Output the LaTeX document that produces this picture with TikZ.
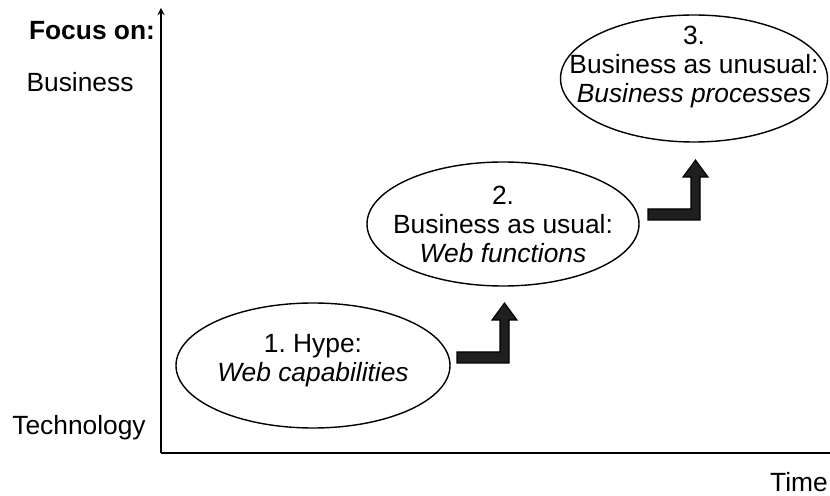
\documentclass[tikz,border=0pt]{standalone}
\usepackage{fontspec}
\setmainfont{Liberation Sans}
\usetikzlibrary{shapes.geometric}
\frenchspacing

\begin{document}
\begin{tikzpicture}
    \tikzstyle{axisline}  = [line width=0.8pt,draw=black]
    \tikzstyle{daxisline} = [line width=0.8pt,->,>=stealth,draw=black]
    \tikzstyle{phase}=[
      ellipse,
      draw=black,
      line width=0.8pt,
      inner sep=0pt,
    ]
    \tikzstyle{phasetext}=[align=center,inner sep=0pt,font=\fontsize{15}{16.5}\selectfont]
    \tikzstyle{axislabel}=[font=\fontsize{15}{16.5}\selectfont]
    \tikzstyle{blockarrow}=[fill=black!88,draw=black,line width=0.6pt,line join=miter]

    \useasboundingbox (-3.22,-0.84) rectangle (13.38,9.06);

    % axes
    \coordinate (o) at (0,0);
    \coordinate (ytop) at (0,8.9);
    \coordinate (xend) at (13.38,0);
    \draw[daxisline] (o)--(ytop);
    \draw[axisline] (o)--(xend);

    \node[axislabel,font=\fontsize{15}{16.5}\selectfont\bfseries] (focus) at (-1.38,8.44) {Focus on:};
    \node[axislabel] (business) at (-1.62,7.42) {Business};
    \node[axislabel] (technology) at (-1.64,0.5) {Technology};
    \node[axislabel] (time) at (12.76,-0.58) {Time};

    % phases
    \node[phase,minimum width=5.48cm,minimum height=2.5cm] (hype) at (3.04,1.75) {};
    \node[phase,minimum width=5.44cm,minimum height=2.48cm] (usual) at (6.84,4.58) {};
    \node[phase,minimum width=5.34cm,minimum height=2.54cm] (unusual) at (10.66,7.49) {};

    \node[phasetext,yshift=0.1cm] (hypetext) at (hype) {1. Hype:\\\textit{Web capabilities}};
    \node[phasetext] (usualtext) at (usual) {2.\\Business as usual:\\\textit{Web functions}};
    \node[phasetext,yshift=0.22cm] (unusualtext) at (unusual) {3.\\Business as unusual:\\\textit{Business processes}};

    % step arrows
    \foreach \x/\y in {5.92/1.80, 9.74/4.66} {
      \draw[blockarrow] (\x,\y) -- ++(1.04,0) -- ++(0,0.86) -- ++(0.16,0) -- ++(-0.25,0.34)
        -- ++(-0.25,-0.34) -- ++(0.16,0) -- ++(0,-0.64) -- ++(-0.86,0) -- cycle;
    }
\end{tikzpicture}
\end{document}
